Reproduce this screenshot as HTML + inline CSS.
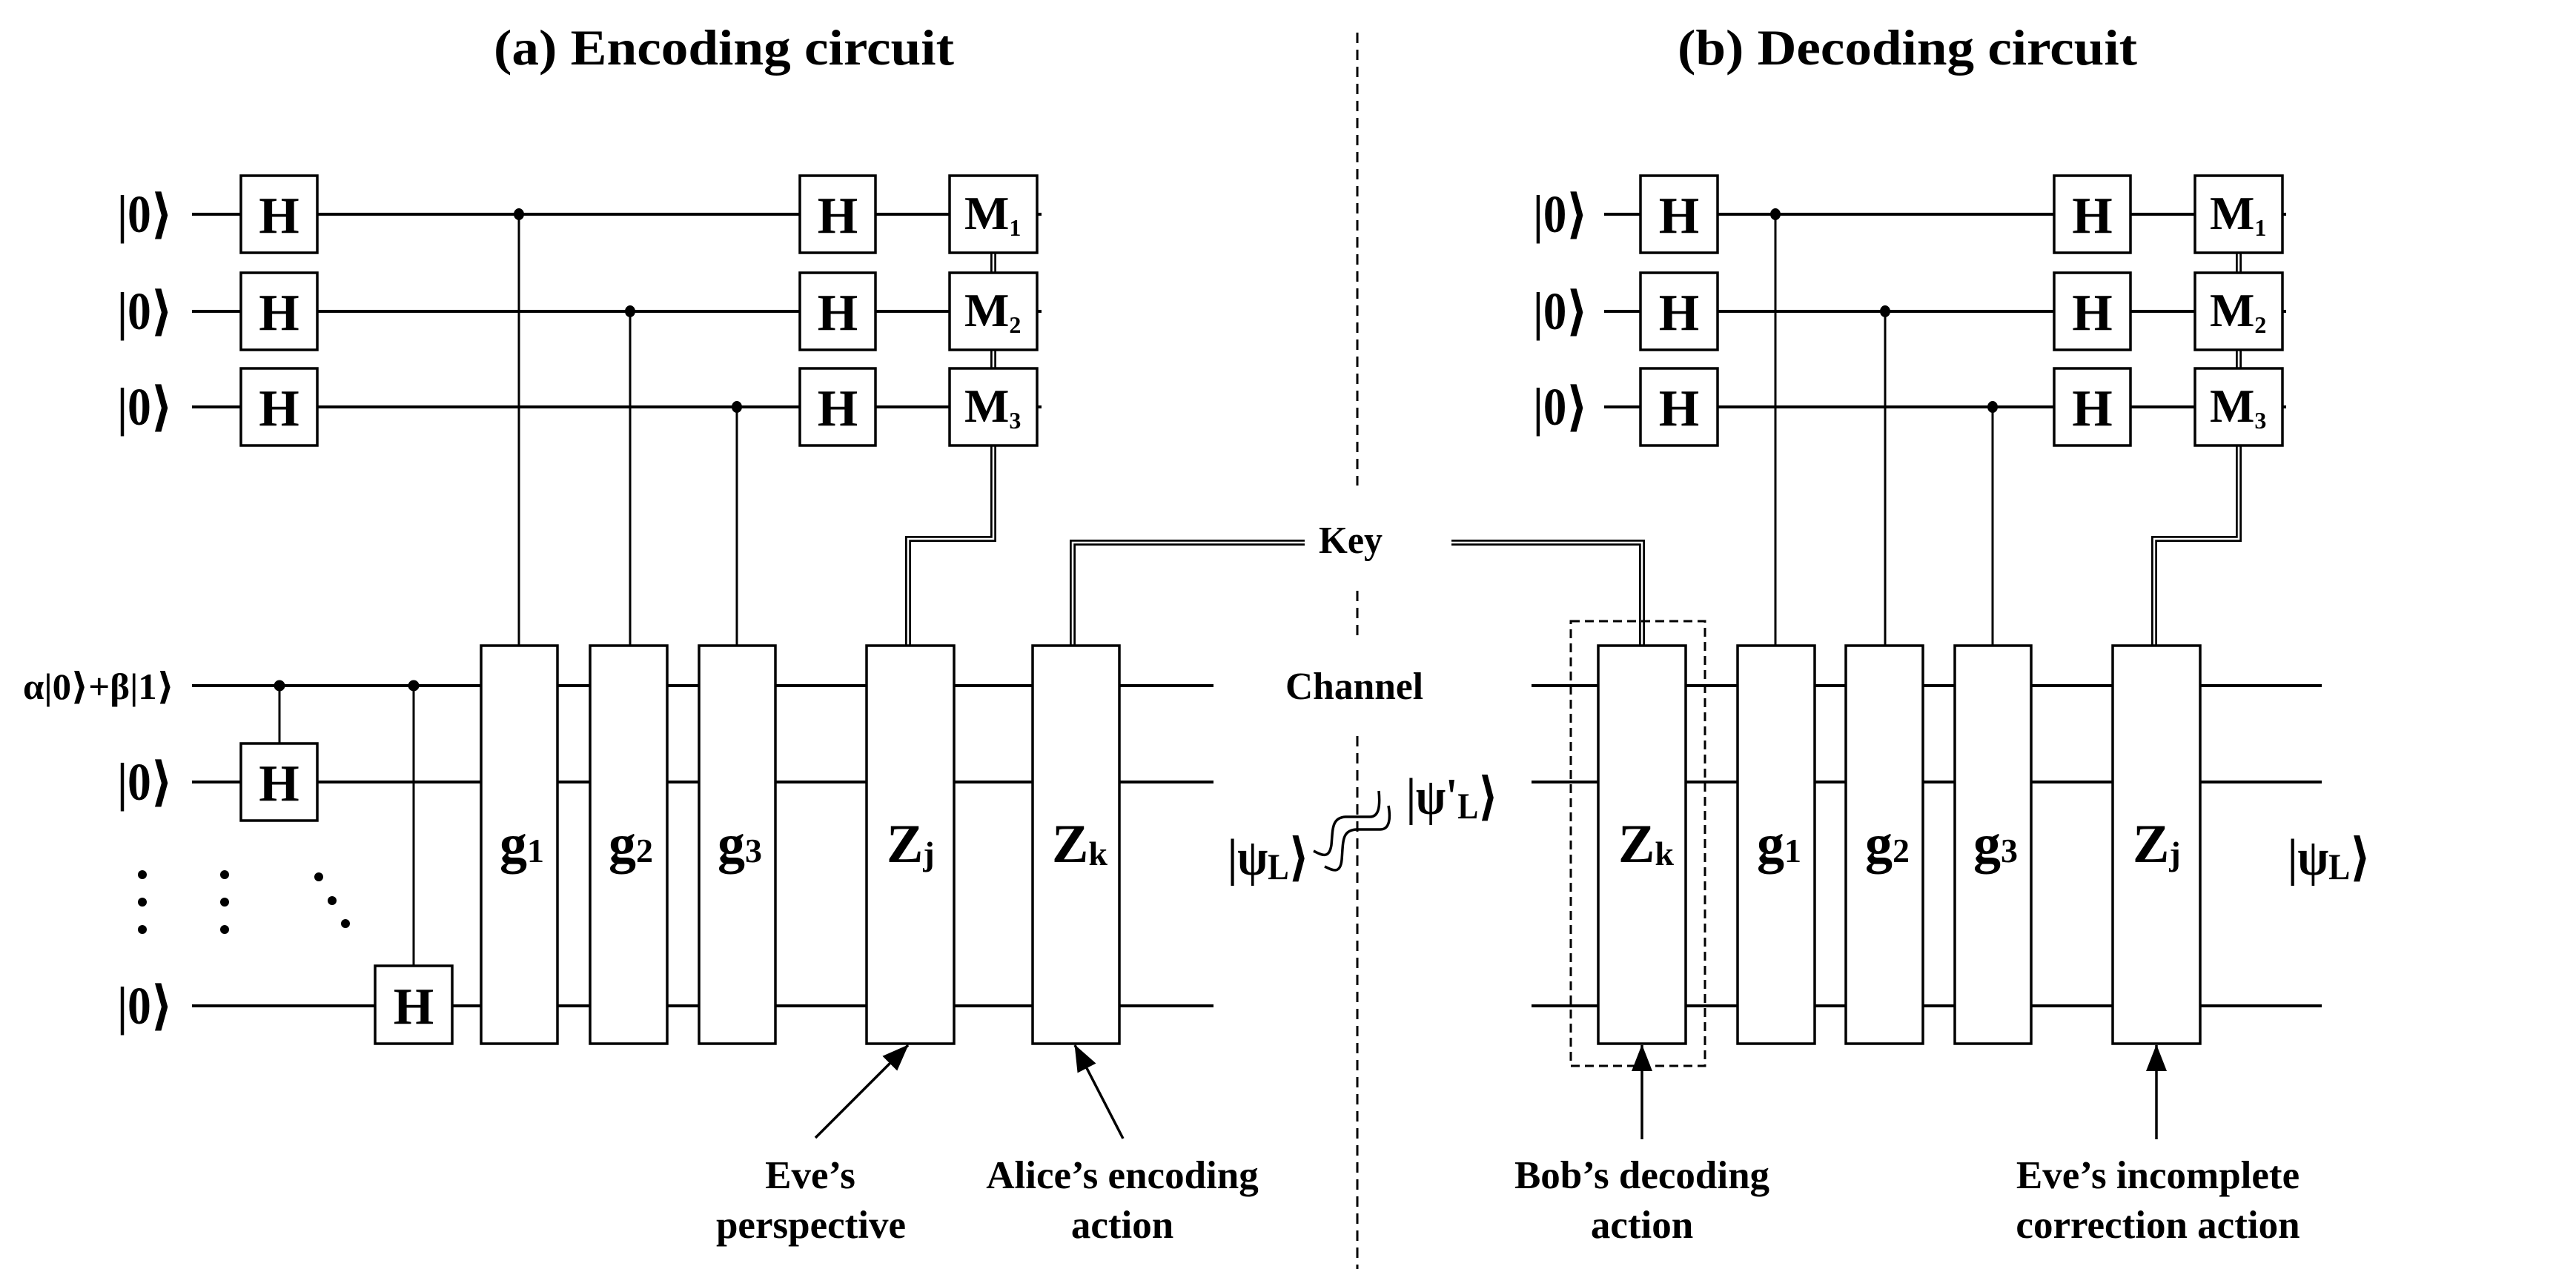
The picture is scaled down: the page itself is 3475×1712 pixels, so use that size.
<!DOCTYPE html>
<html><head><meta charset="utf-8"><style>
html,body{margin:0;padding:0;background:#fff;}
svg{display:block;}
text{font-family:"Liberation Serif","DejaVu Serif",serif;font-weight:bold;fill:#000;}
</style></head><body>
<svg xmlns="http://www.w3.org/2000/svg" width="3475" height="1712" viewBox="0 0 3475 1712">
<defs>
<marker id="ah" viewBox="0 0 36 28" refX="35" refY="14" markerWidth="36" markerHeight="28" markerUnits="userSpaceOnUse" orient="auto">
<path d="M0,0 L36,14 L0,28 Z" fill="#000"/>
</marker>
</defs>
<rect width="3475" height="1712" fill="#fff"/>

<!-- Titles -->
<text x="666" y="87" font-size="68" textLength="621" lengthAdjust="spacingAndGlyphs">(a) Encoding circuit</text>
<text x="2263" y="87" font-size="68" textLength="620" lengthAdjust="spacingAndGlyphs">(b) Decoding circuit</text>

<!-- Divider dashed line -->
<g stroke="#000" stroke-width="3" stroke-dasharray="14 9">
<line x1="1831" y1="44" x2="1831" y2="655"/>
<line x1="1831" y1="797" x2="1831" y2="860"/>
<line x1="1831" y1="993" x2="1831" y2="1712"/>
</g>

<!-- ===== LEFT: wires ===== -->
<g stroke="#000" stroke-width="4" fill="none">
<line x1="259" y1="289" x2="1405" y2="289"/>
<line x1="259" y1="420" x2="1405" y2="420"/>
<line x1="259" y1="549" x2="1405" y2="549"/>
<line x1="259" y1="925" x2="1637" y2="925"/>
<line x1="259" y1="1055" x2="1637" y2="1055"/>
<line x1="259" y1="1357" x2="1637" y2="1357"/>
</g>
<!-- control lines left -->
<g stroke="#000" stroke-width="3">
<line x1="700" y1="289" x2="700" y2="871"/>
<line x1="850" y1="420" x2="850" y2="871"/>
<line x1="994" y1="549" x2="994" y2="871"/>
<line x1="377" y1="925" x2="377" y2="1003"/>
<line x1="558" y1="925" x2="558" y2="1303"/>
</g>
<g fill="#000">
<ellipse cx="700" cy="289" rx="7" ry="8"/>
<ellipse cx="850" cy="420" rx="7" ry="8"/>
<ellipse cx="994" cy="549" rx="7" ry="8"/>
<circle cx="377" cy="925" r="7.5"/>
<circle cx="558" cy="925" r="7.5"/>
<circle cx="192" cy="1180" r="6"/><circle cx="192" cy="1217" r="6"/><circle cx="192" cy="1254" r="6"/>
<circle cx="303" cy="1180" r="6"/><circle cx="303" cy="1217" r="6"/><circle cx="303" cy="1254" r="6"/>
<circle cx="430" cy="1183" r="6"/><circle cx="448" cy="1215" r="6"/><circle cx="466" cy="1246" r="6"/>
</g>
<!-- classical double lines left -->
<g fill="none" stroke-linejoin="miter">
<path d="M1340,341 V368 M1340,472 V497 M1340,601 V727 H1225 V871 M1447,871 V732 H1760" stroke="#000" stroke-width="8"/>
<path d="M1340,341 V368 M1340,472 V497 M1340,601 V727 H1225 V871 M1447,871 V732 H1760" stroke="#fff" stroke-width="2.5"/>
</g>
<!-- gates left -->
<g stroke="#000" stroke-width="3.5" fill="#fff">
<rect x="325" y="237" width="103" height="104"/>
<rect x="325" y="368" width="103" height="104"/>
<rect x="325" y="497" width="103" height="104"/>
<rect x="1079" y="237" width="102" height="104"/>
<rect x="1079" y="368" width="102" height="104"/>
<rect x="1079" y="497" width="102" height="104"/>
<rect x="1281" y="237" width="118" height="104"/>
<rect x="1281" y="368" width="118" height="104"/>
<rect x="1281" y="497" width="118" height="104"/>
<rect x="325" y="1003" width="103" height="104"/>
<rect x="506" y="1303" width="104" height="105"/>
<rect x="649" y="871" width="103" height="537"/>
<rect x="796" y="871" width="104" height="537"/>
<rect x="943" y="871" width="103" height="537"/>
<rect x="1169" y="871" width="118" height="537"/>
<rect x="1393" y="871" width="117" height="537"/>
</g>
<g font-size="70" text-anchor="middle">
<text x="376.5" y="314">H</text><text x="376.5" y="445">H</text><text x="376.5" y="574">H</text>
<text x="1130" y="314">H</text><text x="1130" y="445">H</text><text x="1130" y="574">H</text>
<text x="376.5" y="1080">H</text><text x="558" y="1381">H</text>
</g>
<g font-size="64">
<text x="1301" y="309">M<tspan font-size="32" dy="9">1</tspan></text>
<text x="1301" y="440">M<tspan font-size="32" dy="9">2</tspan></text>
<text x="1301" y="569">M<tspan font-size="32" dy="9">3</tspan></text>
</g>
<g font-size="74">
<text x="674" y="1163">g<tspan font-size="46">1</tspan></text>
<text x="821" y="1163">g<tspan font-size="46">2</tspan></text>
<text x="968" y="1163">g<tspan font-size="46">3</tspan></text>
<text x="1196" y="1163">Z<tspan font-size="46" dy="4">j</tspan></text>
<text x="1419" y="1163">Z<tspan font-size="46" dy="4">k</tspan></text>
</g>
<!-- input labels left -->
<g font-size="72">
<text x="158" y="313" textLength="75" lengthAdjust="spacingAndGlyphs">|0⟩</text>
<text x="158" y="444" textLength="75" lengthAdjust="spacingAndGlyphs">|0⟩</text>
<text x="158" y="573" textLength="75" lengthAdjust="spacingAndGlyphs">|0⟩</text>
<text x="158" y="1079" textLength="75" lengthAdjust="spacingAndGlyphs">|0⟩</text>
<text x="158" y="1381" textLength="75" lengthAdjust="spacingAndGlyphs">|0⟩</text>
</g>
<text x="31" y="943" font-size="50" textLength="204" lengthAdjust="spacingAndGlyphs">α|0⟩+β|1⟩</text>
<text x="1656" y="1180" font-size="70" textLength="110" lengthAdjust="spacingAndGlyphs">|ψ<tspan font-size="50" dy="6">L</tspan><tspan dy="-6">⟩</tspan></text>

<!-- arrows left -->
<g stroke="#000" stroke-width="3.5">
<line x1="1100" y1="1535" x2="1225" y2="1410" marker-end="url(#ah)"/>
<line x1="1515" y1="1536" x2="1450" y2="1410" marker-end="url(#ah)"/>
</g>
<g font-size="53" text-anchor="middle">
<text x="1093" y="1603">Eve’s</text>
<text x="1094" y="1670">perspective</text>
<text x="1514" y="1603">Alice’s encoding</text>
<text x="1514" y="1670">action</text>
</g>

<!-- Key / Channel -->
<text x="1779" y="746" font-size="52" textLength="86" lengthAdjust="spacingAndGlyphs">Key</text>
<text x="1734" y="943" font-size="52" textLength="186" lengthAdjust="spacingAndGlyphs">Channel</text>
<!-- squiggles -->
<g fill="none" stroke="#000" stroke-width="3.5">
<path d="M1772,1148 C1782,1153 1793,1160 1796,1140 C1798,1120 1796,1103 1815,1102 L1848,1102 C1860,1102 1862,1088 1860,1067"/>
<path d="M1787,1169 C1797,1174 1808,1180 1810,1160 C1812,1135 1810,1120 1830,1119 L1862,1119 C1875,1119 1876,1103 1873,1087"/>
</g>
<text x="1897" y="1098" font-size="70" textLength="124" lengthAdjust="spacingAndGlyphs">|ψ'<tspan font-size="50" dy="6">L</tspan><tspan dy="-6">⟩</tspan></text>

<!-- ===== RIGHT: wires ===== -->
<g stroke="#000" stroke-width="4" fill="none">
<line x1="2164" y1="289" x2="3084" y2="289"/>
<line x1="2164" y1="420" x2="3084" y2="420"/>
<line x1="2164" y1="549" x2="3084" y2="549"/>
<line x1="2066" y1="925" x2="3132" y2="925"/>
<line x1="2066" y1="1055" x2="3132" y2="1055"/>
<line x1="2066" y1="1357" x2="3132" y2="1357"/>
</g>
<g stroke="#000" stroke-width="3">
<line x1="2395" y1="289" x2="2395" y2="871"/>
<line x1="2543" y1="420" x2="2543" y2="871"/>
<line x1="2688" y1="549" x2="2688" y2="871"/>
</g>
<g fill="#000">
<ellipse cx="2395" cy="289" rx="7" ry="8"/>
<ellipse cx="2543" cy="420" rx="7" ry="8"/>
<ellipse cx="2688" cy="549" rx="7" ry="8"/>
</g>
<g fill="none">
<path d="M3020,341 V368 M3020,472 V497 M3020,601 V727 H2906 V871 M1958,732 H2215 V871" stroke="#000" stroke-width="8"/>
<path d="M3020,341 V368 M3020,472 V497 M3020,601 V727 H2906 V871 M1958,732 H2215 V871" stroke="#fff" stroke-width="2.5"/>
</g>
<!-- dashed box -->
<rect x="2119" y="838" width="181" height="600" fill="none" stroke="#000" stroke-width="3" stroke-dasharray="12 7"/>
<g stroke="#000" stroke-width="3.5" fill="#fff">
<rect x="2213" y="237" width="104" height="104"/>
<rect x="2213" y="368" width="104" height="104"/>
<rect x="2213" y="497" width="104" height="104"/>
<rect x="2771" y="237" width="103" height="104"/>
<rect x="2771" y="368" width="103" height="104"/>
<rect x="2771" y="497" width="103" height="104"/>
<rect x="2961" y="237" width="118" height="104"/>
<rect x="2961" y="368" width="118" height="104"/>
<rect x="2961" y="497" width="118" height="104"/>
<rect x="2156" y="871" width="118" height="537"/>
<rect x="2344" y="871" width="104" height="537"/>
<rect x="2490" y="871" width="104" height="537"/>
<rect x="2637" y="871" width="103" height="537"/>
<rect x="2850" y="871" width="118" height="537"/>
</g>
<g font-size="70" text-anchor="middle">
<text x="2265" y="314">H</text><text x="2265" y="445">H</text><text x="2265" y="574">H</text>
<text x="2822.5" y="314">H</text><text x="2822.5" y="445">H</text><text x="2822.5" y="574">H</text>
</g>
<g font-size="64">
<text x="2981" y="309">M<tspan font-size="32" dy="9">1</tspan></text>
<text x="2981" y="440">M<tspan font-size="32" dy="9">2</tspan></text>
<text x="2981" y="569">M<tspan font-size="32" dy="9">3</tspan></text>
</g>
<g font-size="74">
<text x="2183" y="1163">Z<tspan font-size="46" dy="4">k</tspan></text>
<text x="2370" y="1163">g<tspan font-size="46">1</tspan></text>
<text x="2516" y="1163">g<tspan font-size="46">2</tspan></text>
<text x="2662" y="1163">g<tspan font-size="46">3</tspan></text>
<text x="2877" y="1163">Z<tspan font-size="46" dy="4">j</tspan></text>
</g>
<g font-size="72">
<text x="2068" y="313" textLength="74" lengthAdjust="spacingAndGlyphs">|0⟩</text>
<text x="2068" y="444" textLength="74" lengthAdjust="spacingAndGlyphs">|0⟩</text>
<text x="2068" y="573" textLength="74" lengthAdjust="spacingAndGlyphs">|0⟩</text>
</g>
<text x="3086" y="1180" font-size="70" textLength="112" lengthAdjust="spacingAndGlyphs">|ψ<tspan font-size="50" dy="6">L</tspan><tspan dy="-6">⟩</tspan></text>

<g stroke="#000" stroke-width="3.5">
<line x1="2215" y1="1537" x2="2215" y2="1410" marker-end="url(#ah)"/>
<line x1="2909" y1="1537" x2="2909" y2="1410" marker-end="url(#ah)"/>
</g>
<g font-size="53" text-anchor="middle">
<text x="2215" y="1603">Bob’s decoding</text>
<text x="2215" y="1670">action</text>
<text x="2911" y="1603">Eve’s incomplete</text>
<text x="2911" y="1670">correction action</text>
</g>
</svg>
</body></html>
